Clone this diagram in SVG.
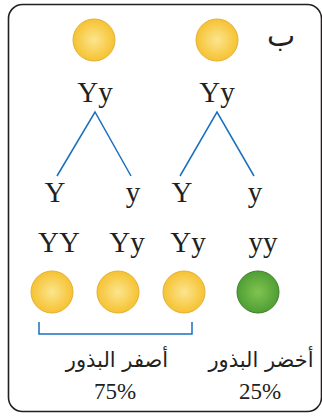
<svg xmlns="http://www.w3.org/2000/svg" width="322" height="416" viewBox="0 0 322 416">
  <defs>
    <radialGradient id="gYellow" cx="0.5" cy="0.5" r="0.5">
      <stop offset="0" stop-color="#fbe58e"/>
      <stop offset="1" stop-color="#f6c232"/>
    </radialGradient>
    <radialGradient id="gGreen" cx="0.5" cy="0.5" r="0.5">
      <stop offset="0" stop-color="#80c450"/>
      <stop offset="1" stop-color="#4f9e35"/>
    </radialGradient>
  </defs>
  <style>
    .frame { fill: #ffffff; stroke: #231f20; stroke-width: 1.6; }
    .seedY { fill: url(#gYellow); stroke: #e2b238; stroke-width: 1; }
    .seedG { fill: url(#gGreen); stroke: #3f7f2c; stroke-width: 1; }
    .line { fill: none; stroke: #1a6fbf; stroke-width: 1.5; }
    .gene { font-family: "Liberation Serif", "Times New Roman", serif; font-size: 29px; fill: #231f20; text-anchor: middle; }
    .ar { font-family: "DejaVu Sans", "Noto Sans", sans-serif; font-size: 21px; fill: #231f20; text-anchor: middle; }
    .pct { font-family: "Liberation Serif", "Times New Roman", serif; font-size: 23px; fill: #231f20; text-anchor: middle; }
  </style>

  <rect class="frame" x="8.5" y="4.5" width="313" height="407" rx="14"/>

  <text class="ar" x="281" y="46" style="font-size:30px">ب</text>

  <!-- parents -->
  <g id="parent1">
    <circle class="seedY" cx="94" cy="40" r="21"/>
    <text class="gene" x="95" y="102">Yy</text>
  </g>
  <g id="parent2">
    <circle class="seedY" cx="217" cy="40" r="21"/>
    <text class="gene" x="217" y="102">Yy</text>
  </g>

  <!-- gametes -->
  <g id="gameteY1"><text class="gene" x="55" y="202">Y</text></g>
  <g id="gamete_y1"><text class="gene" x="133" y="202">y</text></g>
  <g id="gameteY2"><text class="gene" x="182" y="202">Y</text></g>
  <g id="gamete_y2"><text class="gene" x="255" y="202">y</text></g>

  <g id="connectors">
    <polyline class="line" points="57,176 95,112 131,176"/>
    <polyline class="line" points="180,176 217,112 254,176"/>
    <polyline class="line" points="39,322 39,334 192,334 192,322"/>
  </g>

  <!-- offspring -->
  <g id="offYY">
    <text class="gene" x="59" y="252">YY</text>
    <circle class="seedY" cx="52" cy="292" r="21"/>
  </g>
  <g id="offYy1">
    <text class="gene" x="127" y="252">Yy</text>
    <circle class="seedY" cx="118" cy="292" r="21"/>
  </g>
  <g id="offYy2">
    <text class="gene" x="188" y="252">Yy</text>
    <circle class="seedY" cx="184" cy="292" r="21"/>
  </g>
  <g id="offyy">
    <text class="gene" x="263" y="252">yy</text>
    <circle class="seedG" cx="258" cy="292" r="21"/>
  </g>

  <!-- ratios -->
  <g id="yellowRatio">
    <text class="ar" x="117" y="367" direction="rtl">أصفر البذور</text>
    <text class="pct" x="115" y="399">75%</text>
  </g>
  <g id="greenRatio">
    <text class="ar" x="261" y="367" direction="rtl">أخضر البذور</text>
    <text class="pct" x="260" y="399">25%</text>
  </g>
</svg>
